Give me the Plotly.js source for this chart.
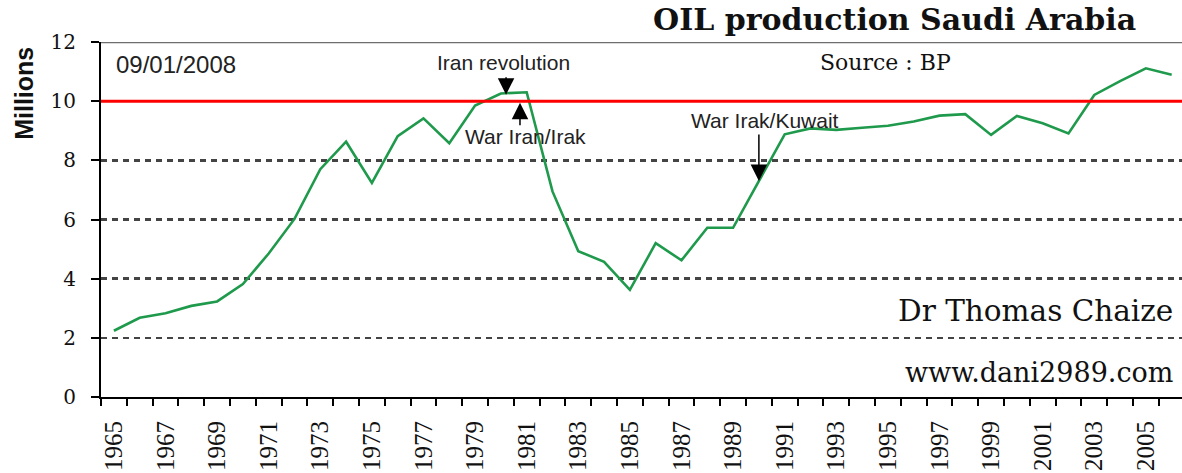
<!DOCTYPE html>
<html>
<head>
<meta charset="utf-8">
<script src="https://cdn.plot.ly/plotly-3.0.1.min.js"></script>
<style>html,body{margin:0;padding:0;background:#fff;}#chart{width:1182px;height:473px;}</style>
</head>
<body>
<div id="chart"></div>
<script>
// Data (million barrels per day)
const years = [1965,1966,1967,1968,1969,1970,1971,1972,1973,1974,1975,1976,1977,1978,1979,1980,1981,1982,1983,1984,1985,1986,1987,1988,1989,1990,1991,1992,1993,1994,1995,1996,1997,1998,1999,2000,2001,2002,2003,2004,2005,2006];
const production = [2.24,2.68,2.83,3.08,3.23,3.82,4.85,6.02,7.70,8.63,7.24,8.82,9.42,8.58,9.85,10.26,10.30,6.95,4.93,4.57,3.62,5.20,4.62,5.72,5.72,7.30,8.88,9.08,9.03,9.10,9.17,9.31,9.51,9.56,8.86,9.50,9.25,8.91,10.21,10.68,11.11,10.89];
const tickYears = [1965,1967,1969,1971,1973,1975,1977,1979,1981,1983,1985,1987,1989,1991,1993,1995,1997,1999,2001,2003,2005];
const yTicks = [0,2,4,6,8,10,12];
const threshold = 10;
const yMax = 12;

const trace = {
  x: years, y: production, type: 'scatter', mode: 'lines',
  line: {color: '#1f9a4c', width: 2.6}, hoverinfo: 'x+y'
};

const serif = 'DejaVu Serif';
const sans = 'Liberation Sans, Arial, sans-serif';

const layout = {
  width: 1182, height: 473,
  margin: {l: 101, r: 0, t: 42, b: 76},
  paper_bgcolor: '#fff', plot_bgcolor: '#fff',
  showlegend: false,
  font: {family: serif, color: '#111'},
  xaxis: {
    range: [1964.5, 2006.4],
    tickmode: 'array', tickvals: tickYears, ticktext: tickYears.map(String),
    ticks: '', tickangle: -90,
    tickfont: {family: 'Liberation Serif', size: 25, color: '#111'},
    ticklabelstandoff: 12,
    showline: true, linecolor: '#000', linewidth: 2,
    showgrid: false, zeroline: false,
    minor: {tick0: 1964.5, dtick: 1, ticks: 'outside', ticklen: 7, tickwidth: 2, tickcolor: '#000', showgrid: false}
  },
  yaxis: {
    range: [0, yMax],
    tickmode: 'array', tickvals: yTicks,
    ticks: 'outside', ticklen: 8, tickwidth: 2, tickcolor: '#000',
    tickfont: {family: serif, size: 20, color: '#111'},
    ticklabelstandoff: 11,
    showline: true, linecolor: '#000', linewidth: 2,
    showgrid: true, gridcolor: '#444', gridwidth: 2.6, griddash: '6px,5px',
    zeroline: false
  },
  shapes: [
    {type: 'line', xref: 'paper', x0: 0, x1: 1, yref: 'y', y0: yMax, y1: yMax, line: {color: '#6e6e6e', width: 2.5}},
    {type: 'line', xref: 'paper', x0: 0, x1: 1, yref: 'y', y0: threshold, y1: threshold, line: {color: '#ff0000', width: 3}}
  ],
  annotations: [
    {text: 'OIL production Saudi Arabia', xref: 'paper', yref: 'paper', x: 0.959, y: 1.0, xanchor: 'right', yanchor: 'bottom', yshift: 3, showarrow: false, font: {family: serif, size: 30, color: '#111', weight: 'bold'}},
    {text: 'Millions', xref: 'paper', yref: 'paper', x: -0.0715, y: 0.856, xanchor: 'center', yanchor: 'middle', textangle: -90, showarrow: false, font: {family: sans, size: 25, color: '#111', weight: 'bold'}},
    {text: '09/01/2008', xref: 'paper', yref: 'paper', x: 0.012, y: 0.938, xanchor: 'left', yanchor: 'middle', showarrow: false, font: {family: sans, size: 24, color: '#222'}},
    {text: 'Source : BP', xref: 'paper', yref: 'paper', x: 0.726, y: 0.941, xanchor: 'center', yanchor: 'middle', showarrow: false, font: {family: serif, size: 22, color: '#111'}},
    {text: 'Dr Thomas Chaize', xref: 'paper', yref: 'paper', x: 0.9935, y: 0.242, xanchor: 'right', yanchor: 'middle', showarrow: false, font: {family: serif, size: 29.5, color: '#111'}},
    {text: 'www.dani2989.com', xref: 'paper', yref: 'paper', x: 0.9935, y: 0.068, xanchor: 'right', yanchor: 'middle', showarrow: false, font: {family: serif, size: 27, color: '#111'}},
    {text: 'Iran revolution', xref: 'paper', yref: 'paper', x: 0.372, y: 0.941, xanchor: 'center', yanchor: 'middle', showarrow: false, font: {family: sans, size: 21, color: '#222'}},
    {text: 'War Iran/Irak', xref: 'paper', yref: 'paper', x: 0.393, y: 0.735, xanchor: 'center', yanchor: 'middle', showarrow: false, font: {family: sans, size: 21, color: '#222'}},
    {text: 'War Irak/Kuwait', xref: 'paper', yref: 'paper', x: 0.614, y: 0.780, xanchor: 'center', yanchor: 'middle', showarrow: false, font: {family: sans, size: 21, color: '#222'}},
    {text: '', x: 1980.2, y: 10.22, xref: 'x', yref: 'y', showarrow: true, ax: 0, ay: -19, arrowhead: 2, arrowsize: 2.2, arrowwidth: 1.5, arrowcolor: '#000', standoff: 0},
    {text: '', x: 1980.74, y: 9.95, xref: 'x', yref: 'y', showarrow: true, ax: 0, ay: 24, arrowhead: 2, arrowsize: 2.2, arrowwidth: 1.5, arrowcolor: '#000', standoff: 0},
    {text: '', x: 1990.0, y: 7.3, xref: 'x', yref: 'y', showarrow: true, ax: 0, ay: -48, arrowhead: 2, arrowsize: 2.2, arrowwidth: 1.5, arrowcolor: '#000', standoff: 0}
  ]
};

Plotly.newPlot('chart', [trace], layout, {displayModeBar: false, staticPlot: true});
</script>
</body>
</html>
